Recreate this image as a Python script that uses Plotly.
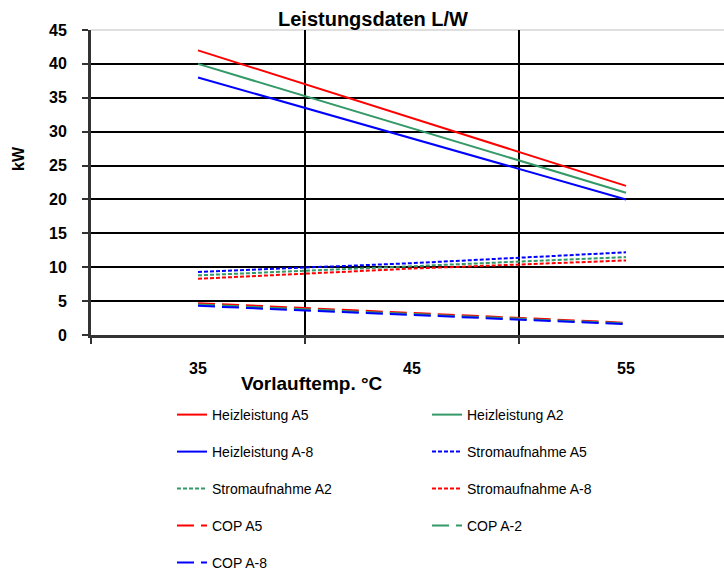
import plotly.graph_objects as go

# ---- data ----
categories = ["35", "45", "55"]
heiz_a5 = [42, 32, 22]
heiz_a2 = [40, 30.5, 21]
heiz_am8 = [38, 29, 20]
strom_a5 = [9.3, 10.6, 12.2]
strom_a2 = [8.8, 10.2, 11.5]
strom_am8 = [8.3, 9.8, 11.0]
cop_a5 = [4.7, 3.3, 1.8]
cop_am2 = [4.5, 3.1, 1.7]
cop_am8 = [4.3, 3.0, 1.6]
y_ticks = [0, 5, 10, 15, 20, 25, 30, 35, 40, 45]

FONT = "Liberation Sans, Arial, sans-serif"
RED = "#FF0000"
GREEN = "#339966"
BLUE = "#0000FF"

W, H = 724, 571
L, T, B, R = 91, 30, 236, 0
PW = W - L - R
PH = H - T - B


def px_x(px):
    return (px - L) / PW


def px_y(py):
    return (H - B - py) / PH


series = [
    ("Heizleistung A5", heiz_a5, RED, "solid"),
    ("Heizleistung A2", heiz_a2, GREEN, "solid"),
    ("Heizleistung A-8", heiz_am8, BLUE, "solid"),
    ("Stromaufnahme A5", strom_a5, BLUE, "4px,2px"),
    ("Stromaufnahme A2", strom_a2, GREEN, "4px,2px"),
    ("Stromaufnahme A-8", strom_am8, RED, "4px,2px"),
    ("COP A5", cop_a5, RED, "17px,7px"),
    ("COP A-2", cop_am2, GREEN, "17px,7px"),
    ("COP A-8", cop_am8, BLUE, "17px,7px"),
]

# legend positions (row, col) in pixels
row_y = [415, 452, 489, 526, 563]
col_x = [172, 427]

fig = go.Figure()
layout_legends = {}
for i, (name, vals, color, dash) in enumerate(series):
    lname = "legend" if i == 0 else f"legend{i + 1}"
    fig.add_trace(go.Scatter(
        x=categories, y=vals, name=name, mode="lines",
        line=dict(color=color, width=2, dash=dash),
        legend=lname, showlegend=True,
    ))
    r, c = divmod(i, 2)
    layout_legends[lname] = dict(
        x=px_x(col_x[c]), y=px_y(row_y[r]), xanchor="left", yanchor="middle",
        xref="paper", yref="paper",
        font=dict(family=FONT, size=14, color="#000"),
        bgcolor="rgba(0,0,0,0)", borderwidth=0, itemwidth=30,
    )

# invisible trace on secondary axis to draw gridlines 5..40
fig.add_trace(go.Scatter(x=categories, y=[None] * 3, yaxis="y2", showlegend=False,
                         hoverinfo="skip"))

fig.update_layout(
    width=W, height=H,
    margin=dict(l=L, r=R, t=T, b=B, autoexpand=False),
    paper_bgcolor="white", plot_bgcolor="white",
    showlegend=True,
    font=dict(family=FONT, color="#000"),
    xaxis=dict(
        type="category", range=[-0.5, -0.5 + PW / 214],
        tickson="boundaries", ticks="outside", ticklen=6, tickwidth=2, tickcolor="#333",
        showgrid=True, gridcolor="#000", gridwidth=2,
        showline=True, linecolor="#333", linewidth=3,
        tickfont=dict(family=FONT, size=16, color="#000", weight="bold"),
        ticklabelstandoff=17,
    ),
    yaxis=dict(
        range=[0, 45], tickvals=y_ticks, showgrid=False,
        ticks="outside", ticklen=6, tickwidth=2, tickcolor="#333",
        showline=True, linecolor="#333", linewidth=3,
        tickfont=dict(family=FONT, size=16, color="#000", weight="bold"),
        ticklabelstandoff=12, zeroline=False,
    ),
    yaxis2=dict(
        range=[0, 45], tickvals=y_ticks[1:-1], overlaying="y", showgrid=True,
        gridcolor="#000", gridwidth=2, showticklabels=False, zeroline=False,
        showline=False, ticks="",
    ),
    shapes=[dict(type="line", xref="paper", yref="paper", x0=0, x1=1, y0=1, y1=1,
                 line=dict(color="#c0c0c0", width=1), layer="below")],
    annotations=[
        dict(text="<b>Leistungsdaten L/W</b>", x=px_x(373), y=px_y(19), xref="paper", yref="paper",
             xanchor="center", yanchor="middle", showarrow=False,
             font=dict(family=FONT, size=20, color="#000")),
        dict(text="<b>kW</b>", x=px_x(18), y=px_y(159), xref="paper", yref="paper",
             xanchor="center", yanchor="middle", showarrow=False, textangle=-90,
             font=dict(family=FONT, size=16, color="#000")),
        dict(text="<b>Vorlauftemp. °C</b>", x=px_x(312), y=px_y(383), xref="paper", yref="paper",
             xanchor="center", yanchor="middle", showarrow=False,
             font=dict(family=FONT, size=19, color="#000")),
    ],
    **layout_legends,
)

fig.write_html("out.html", config={"displayModeBar": False},
               post_script="document.body.style.margin='0';document.body.style.overflow='hidden';")
